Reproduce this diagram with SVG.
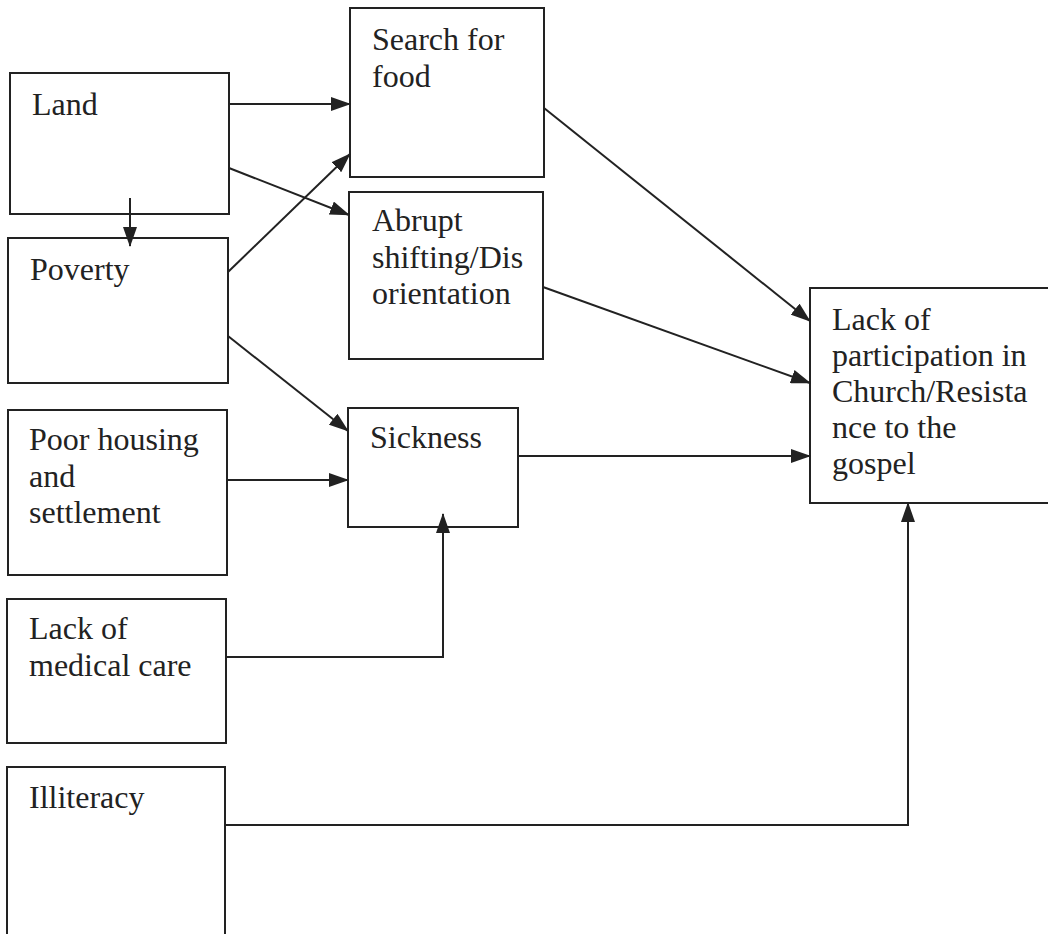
<svg xmlns="http://www.w3.org/2000/svg" width="1048" height="934" viewBox="0 0 1048 934">
<style>
.box{fill:#fff;stroke:#222;stroke-width:2}
.t{font-family:'Liberation Serif','DejaVu Serif',serif;font-size:32px;fill:#222}
.c{fill:none;stroke:#222;stroke-width:2}
</style>
<defs>
<marker id="a" markerWidth="20" markerHeight="14" refX="19" refY="7" orient="auto" markerUnits="userSpaceOnUse">
<path d="M0,0 L20,7 L0,14 Z" fill="#222"/>
</marker>
</defs>
<rect width="1048" height="934" fill="#fff"/>
<g id="land"><rect class="box" x="10" y="73" width="219" height="141"/><text class="t" x="32" y="115">Land</text></g>
<g id="poverty"><rect class="box" x="8" y="238" width="220" height="145"/><text class="t" x="30" y="280">Poverty</text></g>
<g id="search"><rect class="box" x="350" y="8" width="194" height="169"/><text class="t" x="372" y="50">Search for</text><text class="t" x="372" y="87">food</text></g>
<g id="abrupt"><rect class="box" x="349" y="192" width="194" height="167"/><text class="t" x="372" y="231">Abrupt</text><text class="t" x="372" y="268">shifting/Dis</text><text class="t" x="372" y="304">orientation</text></g>
<g id="sickness"><rect class="box" x="348" y="408" width="170" height="119"/><text class="t" x="370" y="448">Sickness</text></g>
<g id="housing"><rect class="box" x="8" y="410" width="219" height="165"/><text class="t" x="29" y="450">Poor housing</text><text class="t" x="29" y="487">and</text><text class="t" x="29" y="523">settlement</text></g>
<g id="medical"><rect class="box" x="7" y="599" width="219" height="144"/><text class="t" x="29" y="639">Lack of</text><text class="t" x="29" y="676">medical care</text></g>
<g id="illiteracy"><rect class="box" x="7" y="767" width="218" height="175"/><text class="t" x="29" y="808">Illiteracy</text></g>
<g id="lack"><rect class="box" x="810" y="288" width="245" height="215"/><text class="t" x="832" y="330">Lack of</text><text class="t" x="832" y="366">participation in</text><text class="t" x="832" y="402">Church/Resista</text><text class="t" x="832" y="438">nce to the</text><text class="t" x="832" y="474">gospel</text></g>
<g id="connectors">
<line class="c" x1="229" y1="104" x2="350" y2="104" marker-end="url(#a)"/>
<line class="c" x1="229" y1="168" x2="349" y2="215" marker-end="url(#a)"/>
<line class="c" x1="130" y1="198" x2="130" y2="246" marker-end="url(#a)"/>
<line class="c" x1="228" y1="272" x2="350" y2="154" marker-end="url(#a)"/>
<line class="c" x1="228" y1="336" x2="348" y2="431" marker-end="url(#a)"/>
<line class="c" x1="544" y1="108" x2="810" y2="321" marker-end="url(#a)"/>
<line class="c" x1="543" y1="287" x2="810" y2="383" marker-end="url(#a)"/>
<line class="c" x1="227" y1="480" x2="348" y2="480" marker-end="url(#a)"/>
<line class="c" x1="518" y1="456" x2="810" y2="456" marker-end="url(#a)"/>
<polyline class="c" points="226,657 443,657 443,514" marker-end="url(#a)"/>
<polyline class="c" points="225,825 908,825 908,503" marker-end="url(#a)"/>
</g>
</svg>
